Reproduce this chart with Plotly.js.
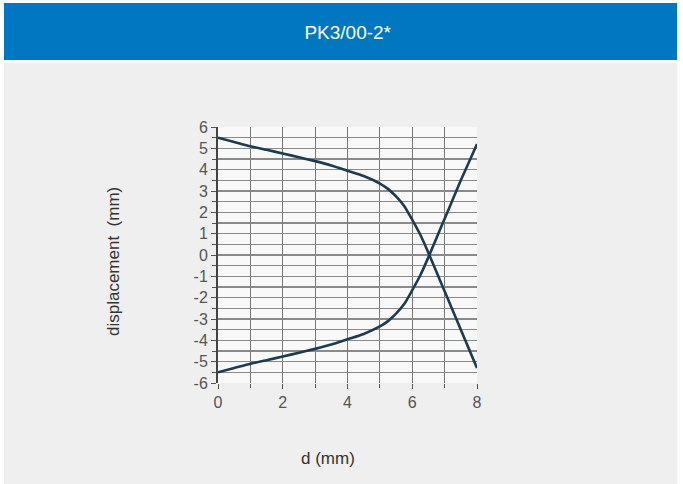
<!DOCTYPE html>
<html>
<head>
<meta charset="utf-8">
<script src="https://cdn.plot.ly/plotly-3.0.1.min.js"></script>
<style>html,body{margin:0;padding:0;background:#fff;}#chart{width:683px;height:484px;}</style>
</head>
<body>
<div id="chart"></div>
<script>
var chartTitle = "PK3/00-2*";
var xLabel = "d (mm)";
var yLabel = "displacement  (mm)";
var dValues = [0, 0.5, 1, 1.5, 2, 2.5, 3, 3.5, 4, 4.5, 5, 5.25, 5.5, 5.75, 6, 6.25, 6.5, 6.75, 7, 7.25, 7.5, 7.75, 8];
var upperDisp = [5.5, 5.3, 5.1, 4.93, 4.76, 4.58, 4.4, 4.2, 3.95, 3.7, 3.35, 3.1, 2.75, 2.3, 1.65, 0.95, 0.1, -0.8, -1.7, -2.6, -3.5, -4.4, -5.3];
var lowerDisp = [-5.5, -5.3, -5.1, -4.93, -4.76, -4.58, -4.4, -4.2, -3.95, -3.7, -3.35, -3.1, -2.75, -2.3, -1.65, -0.95, -0.1, 0.8, 1.7, 2.6, 3.5, 4.35, 5.2];
var xTicks = [0, 2, 4, 6, 8];
var yTicks = [-6, -5, -4, -3, -2, -1, 0, 1, 2, 3, 4, 5, 6];

var lineStyle = {color: '#1d3b52', width: 2.6, shape: 'spline', smoothing: 0.6};
var traces = [
  {x: dValues, y: upperDisp, mode: 'lines', line: lineStyle, hoverinfo: 'skip', cliponaxis: true},
  {x: dValues, y: lowerDisp, mode: 'lines', line: lineStyle, hoverinfo: 'skip', cliponaxis: true}
];

var L = 218, R = 477, T = 127, B = 383, W = 683, H = 484;
function px(p) { return (p - L) / (R - L); }
function py(p) { return (B - p) / (B - T); }

var tickFont = {family: 'Liberation Sans Narrow, Liberation Sans, Arial, sans-serif', size: 16, color: '#555'};
var layout = {
  width: W, height: H,
  margin: {l: L, r: W - R, t: T, b: H - B, pad: 0},
  paper_bgcolor: '#ffffff',
  plot_bgcolor: 'rgba(0,0,0,0)',
  showlegend: false,
  title: {text: chartTitle, x: 342 / W, y: 1 - 32 / H, xref: 'paper', yref: 'container', xanchor: 'center', yanchor: 'middle',
          font: {family: 'Liberation Sans, Arial, sans-serif', size: 19, color: '#ffffff'}},
  xaxis: {
    range: [0, 8], tickvals: xTicks, ticktext: xTicks.map(String),
    showgrid: true, gridcolor: '#777', gridwidth: 1,
    minor: {dtick: 1, showgrid: true, gridcolor: '#777', gridwidth: 1, ticks: 'outside', ticklen: 4, tickcolor: '#555'},
    ticks: 'outside', ticklen: 5, tickcolor: '#555',
    zeroline: false, showline: false,
    tickfont: tickFont, fixedrange: true
  },
  yaxis: {
    range: [-6, 6], tickvals: yTicks, ticktext: yTicks.map(String),
    showgrid: true, gridcolor: '#8a8a8a', gridwidth: 1.5,
    minor: {dtick: 0.5, showgrid: true, gridcolor: '#8a8a8a', gridwidth: 1.5, ticks: 'outside', ticklen: 4, tickcolor: '#555'},
    ticks: 'outside', ticklen: 5, tickcolor: '#555',
    zeroline: false, showline: true, linecolor: '#444', linewidth: 2,
    tickfont: tickFont, fixedrange: true
  },
  shapes: [
    {type: 'rect', xref: 'paper', yref: 'paper', x0: px(4), x1: px(677), y0: py(60), y1: py(3), fillcolor: '#0077c0', line: {width: 0}, layer: 'below'},
    {type: 'rect', xref: 'paper', yref: 'paper', x0: px(4), x1: px(677), y0: py(484), y1: py(63), fillcolor: '#efefef', line: {width: 0}, layer: 'below'},
    {type: 'rect', xref: 'paper', yref: 'paper', x0: 0, x1: 1, y0: 0, y1: 1, fillcolor: '#f9f9f9', line: {width: 0}, layer: 'below'}
  ],
  annotations: [
    {text: yLabel, xref: 'paper', yref: 'paper', x: px(113), y: py(262), textangle: -90, showarrow: false,
     xanchor: 'center', yanchor: 'middle', font: {family: 'Liberation Sans, Arial, sans-serif', size: 17, color: '#333'}},
    {text: xLabel, xref: 'paper', yref: 'paper', x: px(328), y: py(458), showarrow: false,
     xanchor: 'center', yanchor: 'middle', font: {family: 'Liberation Sans, Arial, sans-serif', size: 17, color: '#333'}}
  ]
};
Plotly.newPlot('chart', traces, layout, {staticPlot: true, displayModeBar: false});
</script>
</body>
</html>
